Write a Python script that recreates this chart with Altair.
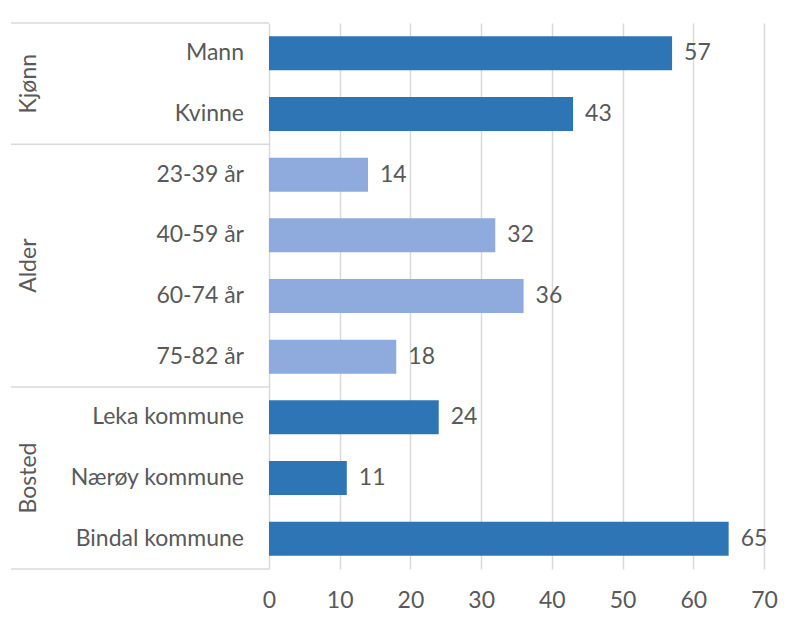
import altair as alt
import pandas as pd

categories = ["Mann", "Kvinne", "23-39 år", "40-59 år", "60-74 år", "75-82 år",
              "Leka kommune", "Nærøy kommune", "Bindal kommune"]
groups = ["Kjønn", "Kjønn", "Alder", "Alder", "Alder", "Alder",
          "Bosted", "Bosted", "Bosted"]
values = [57, 43, 14, 32, 36, 18, 24, 11, 65]
group_order = ["Kjønn", "Alder", "Bosted"]
group_colors = ["#2E75B6", "#8FAADC", "#2E75B6"]
x_ticks = [0, 10, 20, 30, 40, 50, 60, 70]

rows = list(range(len(categories)))
df = pd.DataFrame({"category": categories, "group": groups, "value": values, "row": rows})

# group spans derived from the lists above
gfirst = [min(r for r, g in zip(rows, groups) if g == G) for G in group_order]
glast = [max(r for r, g in zip(rows, groups) if g == G) for G in group_order]
gdf = pd.DataFrame({
    "group": group_order,
    "mid": [(a + b) / 2 for a, b in zip(gfirst, glast)],
})
bounds = sorted(set([a - 0.5 for a in gfirst] + [b + 0.5 for b in glast]))
bdf = pd.DataFrame({"b": bounds})

FONT = "Lato"
FS = 23
TXT = "#595959"
GRID = "#D9D9D9"

yscale = alt.Scale(domain=[-0.5, len(categories) - 0.5], reverse=True, nice=False, zero=False)
xscale = alt.Scale(domain=[0, 70], nice=False)

base = alt.Chart(df)

bars = base.transform_calculate(
    lo="datum.row - 0.28", hi="datum.row + 0.28", zero="0"
).mark_bar().encode(
    x=alt.X("value:Q", scale=xscale,
            axis=alt.Axis(values=x_ticks, grid=True, gridColor=GRID, gridWidth=1.5,
                          domain=False, ticks=False, labelFont=FONT, labelFontSize=FS,
                          labelColor=TXT, labelPadding=20, labelFlush=False,
                          labelOverlap=False, title=None)),
    x2="zero:Q",
    y=alt.Y("lo:Q", scale=yscale, axis=None),
    y2="hi:Q",
    color=alt.Color("group:N", scale=alt.Scale(domain=group_order, range=group_colors), legend=None),
)

value_labels = base.mark_text(align="left", baseline="middle", dx=12, font=FONT,
                              fontSize=FS, color=TXT).encode(
    x=alt.X("value:Q", scale=xscale),
    y=alt.Y("row:Q", scale=yscale, axis=None),
    text="value:Q",
)

cat_labels = base.mark_text(align="right", baseline="middle", font=FONT,
                            fontSize=FS, color=TXT).encode(
    x=alt.value(-25),
    y=alt.Y("row:Q", scale=yscale, axis=None),
    text="category:N",
)

group_labels = alt.Chart(gdf).mark_text(align="center", baseline="middle", angle=270, font=FONT,
                                        fontSize=FS, color=TXT).encode(
    x=alt.value(-240),
    y=alt.Y("mid:Q", scale=yscale, axis=None),
    text="group:N",
)

seps = alt.Chart(bdf).mark_rule(color=GRID, strokeWidth=1.5).encode(
    x=alt.value(-258), x2=alt.value(0), y=alt.Y("b:Q", scale=yscale, axis=None))

chart = alt.layer(bars, seps, value_labels, cat_labels, group_labels).properties(
    width=495, height=546,
    autosize=alt.AutoSizeParams(type="none"),
    padding={"left": 261, "top": 15, "right": 27, "bottom": 50},
    background="white",
).configure_view(stroke=None)

chart.save("out.html", embed_options={"renderer": "svg", "actions": False})
